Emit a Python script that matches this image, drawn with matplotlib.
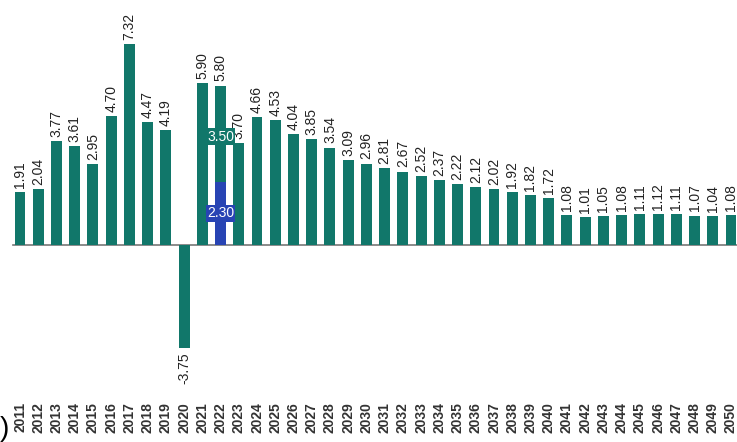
import numpy as np
import matplotlib.pyplot as plt

plt.rcParams['font.family'] = ['Liberation Sans', 'DejaVu Sans']

years = [str(y) for y in range(2011, 2051)]
values = [1.91, 2.04, 3.77, 3.61, 2.95, 4.70, 7.32, 4.47, 4.19, -3.75,
          5.90, 5.80, 3.70, 4.66, 4.53, 4.04, 3.85, 3.54, 3.09, 2.96,
          2.81, 2.67, 2.52, 2.37, 2.22, 2.12, 2.02, 1.92, 1.82, 1.72,
          1.08, 1.01, 1.05, 1.08, 1.11, 1.12, 1.11, 1.07, 1.04, 1.08]
# 2022 split into two parts
split_year = "2022"
split_parts = [2.30, 3.50]

teal = "#11776a"
blue = "#2844b4"

fig = plt.figure(figsize=(7.37, 4.42), dpi=100)
ax = fig.add_axes([0.0, 1 - 398 / 442, 1.0, 398 / 442])

x = np.arange(len(years))
ax.bar(x, values, width=0.6, color=teal, zorder=2)

i = years.index(split_year)
ax.bar(x[i], split_parts[0], width=0.6, color=blue, zorder=3)
ax.text(x[i], split_parts[0] / 2, f"{split_parts[0]:.2f}", ha="center", va="center",
        color="white", fontsize=10, zorder=4,
        bbox=dict(boxstyle="square,pad=0.1", fc=blue, ec="none"))
ax.text(x[i], split_parts[0] + split_parts[1] * 0.47, f"{split_parts[1]:.2f}", ha="center",
        va="center", color="white", fontsize=10, zorder=4,
        bbox=dict(boxstyle="square,pad=0.1", fc=teal, ec="none"))

for xi, v in zip(x, values):
    ax.annotate(f"{v:.2f}", (xi, v), xytext=(0, 3 if v >= 0 else -3),
                textcoords="offset points", rotation=90, ha="center",
                va="bottom" if v >= 0 else "top", fontsize=10, color="#222222")

ax.plot([-0.4, 39.6], [0, 0], color="#777777", lw=1.2, zorder=1)

scale = 27.5
ax.set_ylim(-(398 - 245) / scale, 245 / scale)
ax.set_xlim(-20 / 18.23, 39 + 6 / 18.23)
ax.set_xticks(x)
ax.set_xticklabels(years, rotation=90, fontsize=10, color="#333333", fontweight="bold")
ax.tick_params(axis="x", length=0, pad=3)
ax.set_yticks([])
for s in ax.spines.values():
    s.set_visible(False)

fig.text(0.0, 0.0, ")", fontsize=20, ha="left", va="bottom")

fig.savefig("out.png", dpi=100)
